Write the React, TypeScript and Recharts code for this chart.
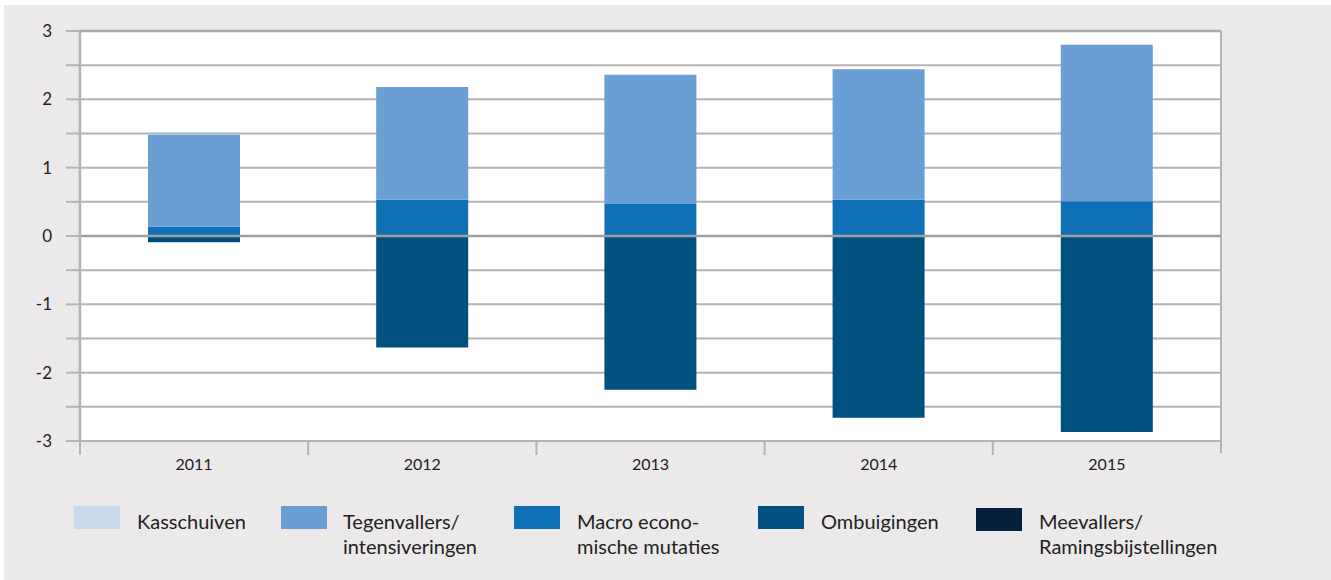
import React from "react";
import { BarChart, Bar, XAxis, YAxis, CartesianGrid, ReferenceLine } from "recharts";

const years = ["2011", "2012", "2013", "2014", "2015"];
const kasschuiven = [0, 0, 0, 0, 0];
const tegenvallers = [1.34, 1.65, 1.89, 1.91, 2.29];
const macro = [0.14, 0.53, 0.47, 0.53, 0.51];
const ombuigingen = [-0.09, -1.63, -2.25, -2.66, -2.87];
const meevallers = [0, 0, 0, 0, 0];
const yTicks = [-3, -2.5, -2, -1.5, -1, -0.5, 0, 0.5, 1, 1.5, 2, 2.5, 3];

const legendItems = [
  { label: ["Kasschuiven"], color: "#cbd9ef", left: 74, top: 506, text: 137 },
  { label: ["Tegenvallers/", "intensiveringen"], color: "#6a9fd6", left: 281, top: 506, text: 343 },
  { label: ["Macro econo-", "mische mutaties"], color: "#0f70b5", left: 514, top: 506, text: 577 },
  { label: ["Ombuigingen"], color: "#01507f", left: 758, top: 506, text: 821 },
  { label: ["Meevallers/", "Ramingsbijstellingen"], color: "#03213f", left: 976, top: 508, text: 1039 },
];

const data = years.map((year, i) => ({
  year,
  kasschuiven: kasschuiven[i],
  macro: macro[i],
  tegenvallers: tegenvallers[i],
  ombuigingen: ombuigingen[i],
  meevallers: meevallers[i],
}));

const FONT = "Lato, 'Noto Sans', sans-serif";
const GRID = "#b4b4b4";
const W = 1331;
const H = 580;
const PLOT_LEFT = 80;
const PLOT_RIGHT = 1221;
const PLOT_BOTTOM = 441;
const BAND = (PLOT_RIGHT - PLOT_LEFT) / years.length;

function XTick(props: any) {
  const { x, payload, index } = props;
  const lx = x - BAND / 2;
  return (
    <g>
      <line x1={lx} x2={lx} y1={PLOT_BOTTOM} y2={455} stroke={GRID} strokeWidth={2} />
      {index === years.length - 1 && (
        <line x1={x + BAND / 2} x2={x + BAND / 2} y1={PLOT_BOTTOM} y2={453} stroke={GRID} strokeWidth={2} />
      )}
      <text x={x} y={470} textAnchor="middle" fill="#222" fontSize={16} fontFamily={FONT}>
        {payload.value}
      </text>
    </g>
  );
}

export default function App() {
  return (
    <div style={{ position: "absolute", left: 0, top: 0, width: W, height: H, background: "#fff" }}>
      <style>{"body{margin:0}"}</style>
      <div style={{ position: "absolute", left: 4, top: 5, right: 0, bottom: 0, background: "#ece9ea" }} />
      <div style={{ position: "absolute", left: 0, top: 0 }}>
        <BarChart
          width={W}
          height={H}
          data={data}
          stackOffset="sign"
          barSize={92}
          margin={{ top: 31, right: W - PLOT_RIGHT, bottom: 0, left: 0 }}
        >
          <CartesianGrid
            stroke={GRID}
            strokeWidth={2}
            fill="#fff"
            verticalCoordinatesGenerator={({ offset }: any) => [offset.left + offset.width]}
          />
          <XAxis
            dataKey="year"
            height={H - PLOT_BOTTOM}
            axisLine={false}
            tickLine={false}
            tick={<XTick />}
            interval={0}
          />
          <YAxis
            width={PLOT_LEFT}
            domain={[-3, 3]}
            ticks={yTicks}
            interval={0}
            tickSize={14}
            tickMargin={14}
            tickLine={{ stroke: GRID, strokeWidth: 2 }}
            axisLine={{ stroke: GRID, strokeWidth: 2.5 }}
            tickFormatter={(v: number) => (Number.isInteger(v) ? String(v) : "")}
            tick={{ fill: "#222", fontSize: 17, fontFamily: FONT }}
          />
          <Bar dataKey="kasschuiven" stackId="a" fill="#cbd9ef" isAnimationActive={false} />
          <Bar dataKey="macro" stackId="a" fill="#0f70b5" isAnimationActive={false} />
          <Bar dataKey="tegenvallers" stackId="a" fill="#6a9fd6" isAnimationActive={false} />
          <Bar dataKey="ombuigingen" stackId="a" fill="#01507f" isAnimationActive={false} />
          <Bar dataKey="meevallers" stackId="a" fill="#03213f" isAnimationActive={false} />
          <ReferenceLine y={0} stroke="#a0a0a0" strokeWidth={2.5} />
          <ReferenceLine y={3} stroke="#a8a8a8" strokeWidth={2.5} />
        </BarChart>
      </div>
      {legendItems.map((item) => (
        <div key={item.label[0]}>
          <div
            style={{
              position: "absolute",
              left: item.left,
              top: item.top,
              width: 46,
              height: 23,
              background: item.color,
            }}
          />
          <div
            style={{
              position: "absolute",
              left: item.text,
              top: 509,
              fontFamily: FONT,
              fontSize: 20,
              lineHeight: "25px",
              color: "#222",
              whiteSpace: "nowrap",
            }}
          >
            {item.label.map((l) => (
              <div key={l}>{l}</div>
            ))}
          </div>
        </div>
      ))}
    </div>
  );
}
